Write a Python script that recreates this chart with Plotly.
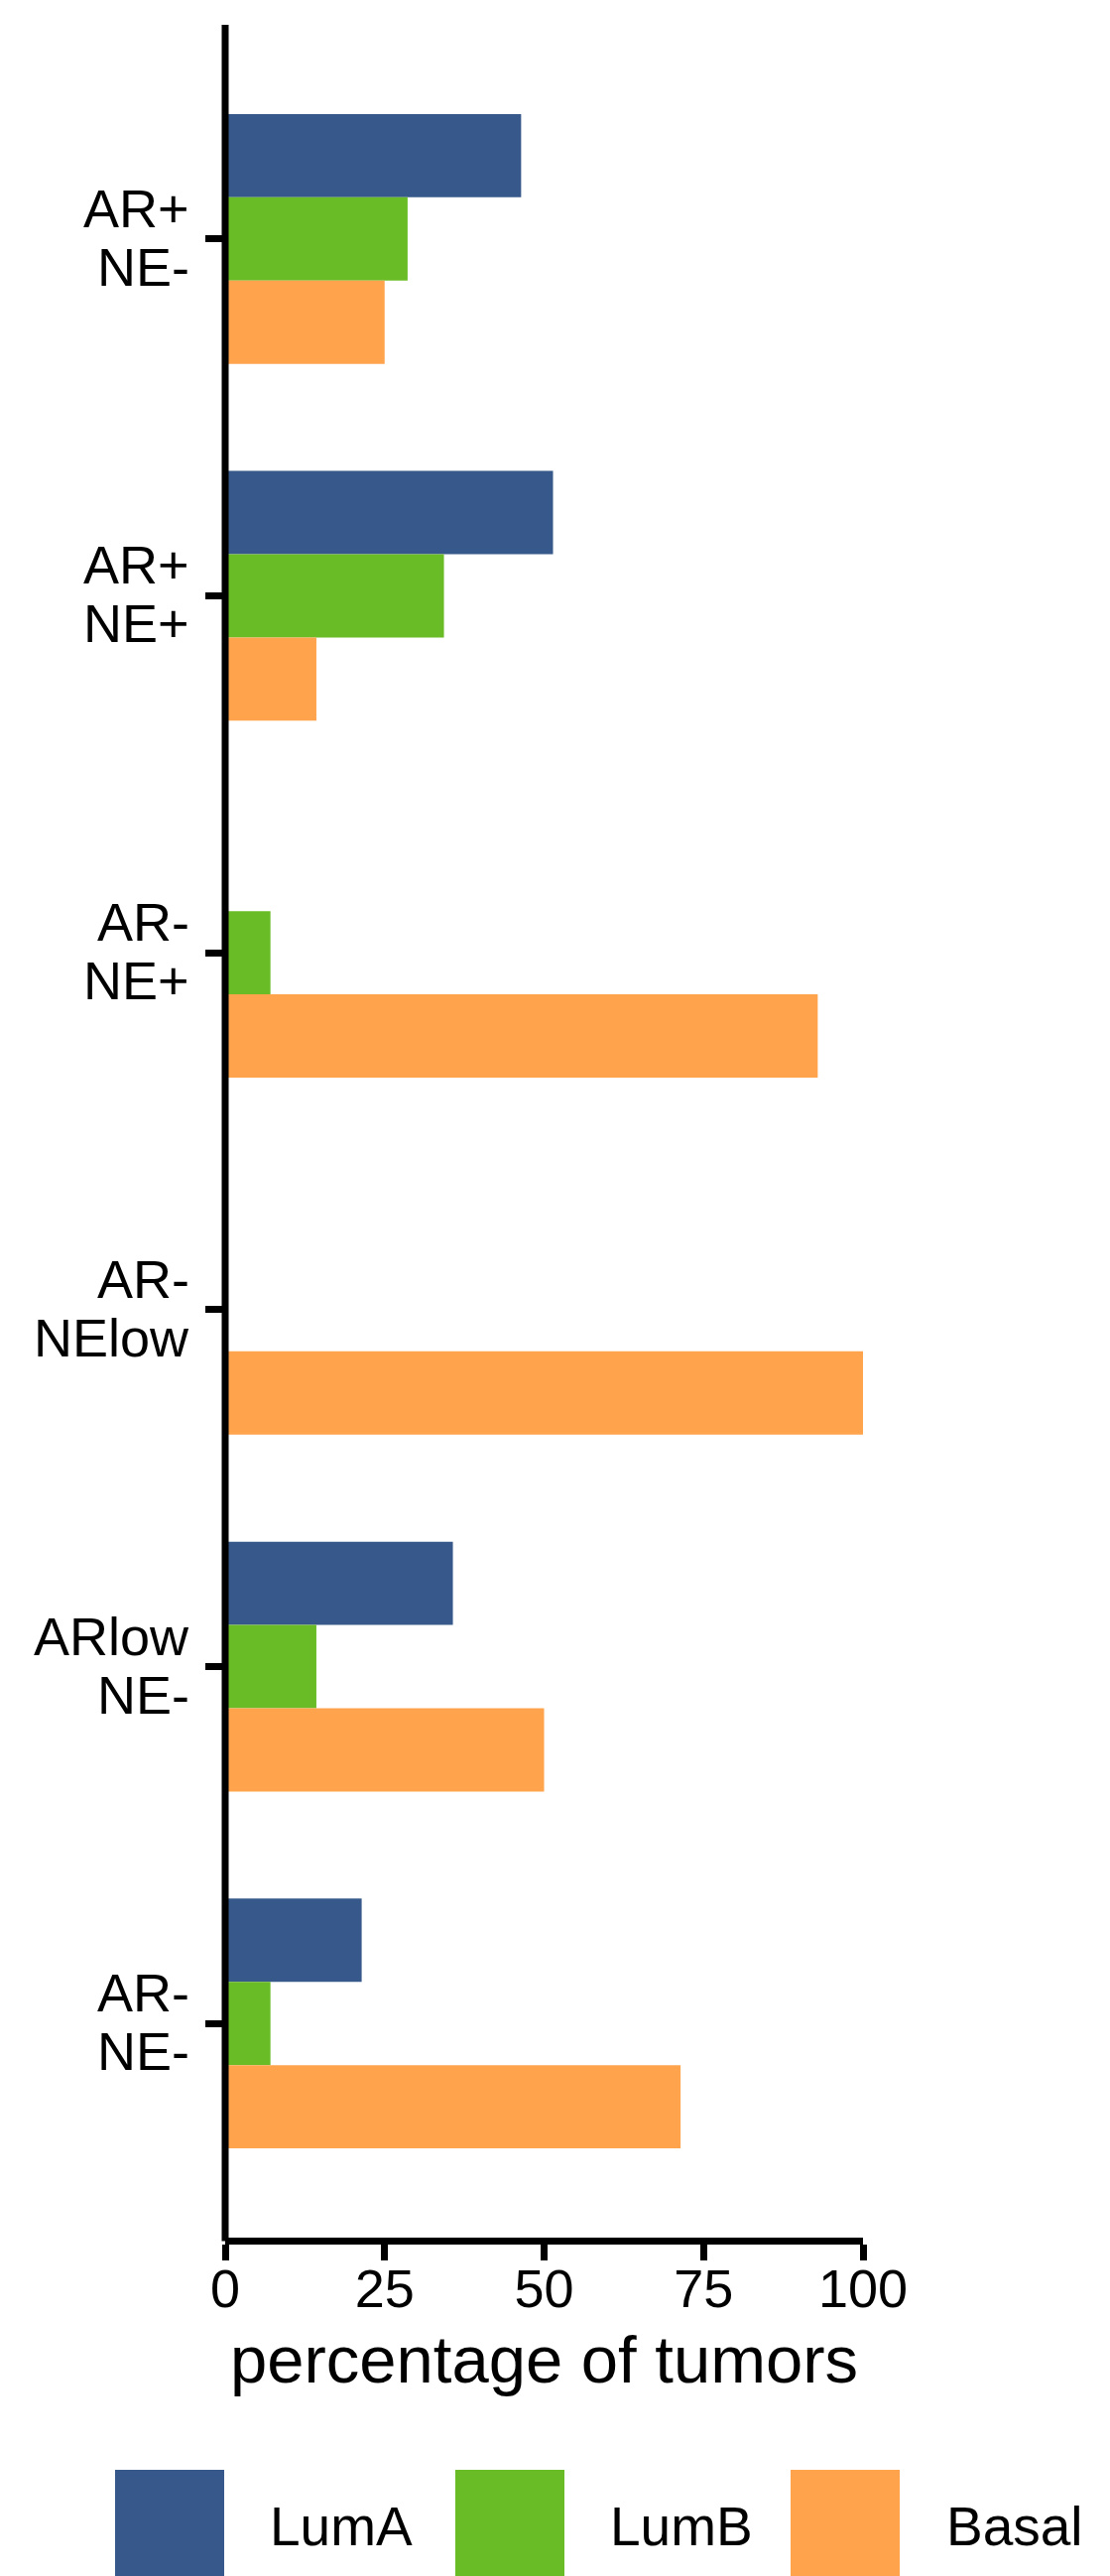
import plotly.graph_objects as go

# Tumour groups (top to bottom): AR status / NE status, and subtype composition in percent
group_ar = ["AR+", "AR+", "AR-", "AR-", "ARlow", "AR-"]
group_ne = ["NE-", "NE+", "NE+", "NElow", "NE-", "NE-"]
lum_a = [46.4, 51.4, 0.0, 0.0, 35.7, 21.4]
lum_b = [28.6, 34.3, 7.1, 0.0, 14.3, 7.1]
basal = [25.0, 14.3, 92.9, 100.0, 50.0, 71.4]

series_names = ["LumA", "LumB", "Basal"]
series_values = [lum_a, lum_b, basal]
series_colors = ["#36588A", "#6ABC26", "#FFA34D"]

x_ticks = [0, 25, 50, 75, 100]

W, H = 1119, 2596
M_L, M_R, M_T, M_B = 227, 249, 25, 341
FONT = "Arial, Liberation Sans, Helvetica, sans-serif"
n = len(group_ar)

fig = go.Figure()
for name, vals, col in zip(series_names, series_values, series_colors):
    fig.add_trace(go.Bar(
        y=list(range(n)), x=vals, name=name, orientation="h",
        marker=dict(color=col, line=dict(width=0)),
        showlegend=False,
    ))

fig.update_layout(
    width=W, height=H,
    margin=dict(l=M_L, r=M_R, t=M_T, b=M_B, pad=0),
    paper_bgcolor="white", plot_bgcolor="white",
    barmode="group", bargap=0.3, bargroupgap=0.0,
    font=dict(family=FONT, color="black"),
)
fig.update_xaxes(
    range=[0, 100], tickvals=x_ticks, ticktext=[str(v) for v in x_ticks],
    showgrid=False, zeroline=False,
    showline=True, linewidth=7, linecolor="black",
    ticks="outside", ticklen=16, tickwidth=7, tickcolor="black",
    tickfont=dict(size=54, family=FONT, color="black"),
    ticklabelstandoff=-18,
    title=dict(text="percentage of tumors", font=dict(size=67, family=FONT, color="black"), standoff=22),
)
fig.update_yaxes(
    range=[n - 0.4, -0.6],
    tickvals=list(range(n)), showticklabels=False,
    showgrid=False, zeroline=False, showline=False,
    ticks="outside", ticklen=19, tickwidth=7, tickcolor="black",
)

# Vertical axis line on the left plot edge (x = 0), centred so it lines up with the 0 tick
fig.add_shape(type="line", xref="paper", yref="paper", x0=0, x1=0, y0=-0.0016, y1=1,
              line=dict(color="black", width=7), layer="above")

plot_w = W - M_L - M_R
plot_h = H - M_T - M_B
def px_x(px):
    return (px - M_L) / plot_w
def px_y(py):
    return (H - M_B - py) / plot_h

# Two-line category labels with tight line spacing
for i, (ar, ne) in enumerate(zip(group_ar, group_ne)):
    for txt, shift in ((ar, 31), (ne, -28)):
        fig.add_annotation(xref="paper", yref="y", x=px_x(193), y=i, yshift=shift,
                           xanchor="right", yanchor="middle", showarrow=False,
                           text=txt, font=dict(size=54, family=FONT, color="black"))

# Legend drawn as large swatches below the axis
swatch_left = [116, 459, 797]
label_left = [270, 613, 952]
for name, col, sx, lx in zip(series_names, series_colors, swatch_left, label_left):
    fig.add_shape(type="rect", xref="paper", yref="paper",
                  x0=px_x(sx), x1=px_x(sx + 110), y0=px_y(2489), y1=px_y(2610),
                  fillcolor=col, line=dict(width=0), layer="above")
    fig.add_annotation(xref="paper", yref="paper", x=px_x(lx), y=px_y(2546),
                       xanchor="left", yanchor="middle", showarrow=False,
                       text=name, font=dict(size=55, family=FONT, color="black"))

fig.write_html("out.html")
